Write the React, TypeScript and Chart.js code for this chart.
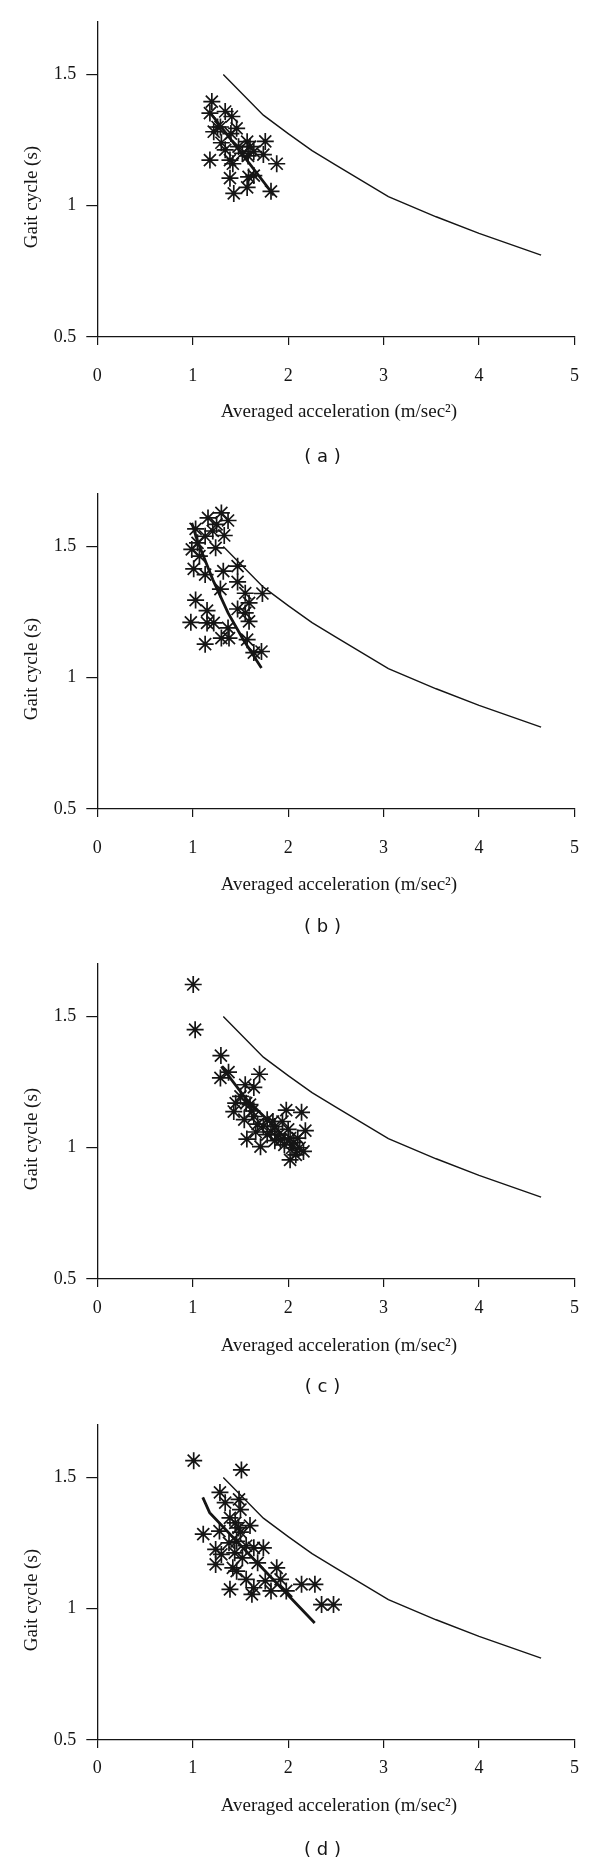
import React, { useEffect, useRef } from "react";
import { Chart, registerables } from "chart.js";

Chart.register(...registerables);

// ---------- text ----------
const X_TITLE = "Averaged acceleration (m/sec²)";
const Y_TITLE = "Gait cycle (s)";
const PANEL_LABELS = ["( a )", "( b )", "( c )", "( d )"];

// ---------- tick labels ----------
const X_TICKS = [0, 1, 2, 3, 4, 5];
const Y_TICKS = [0.5, 1, 1.5];
const X_TICK_LABELS = ["0", "1", "2", "3", "4", "5"];
const Y_TICK_LABELS = ["0.5", "1", "1.5"];
const X_MIN = 0;
const X_MAX = 5;
const Y_MIN = 0.5;
const Y_MAX = 1.7;

// ---------- reference curve (same in every panel) ----------
const REF_X = [1.32, 1.74, 2.0, 2.25, 2.5, 3.05, 3.55, 4.0, 4.65];
const REF_Y = [1.5, 1.345, 1.275, 1.21, 1.155, 1.035, 0.958, 0.895, 0.812];

// ---------- panel (a) ----------
const A_X = [1.2, 1.18, 1.34, 1.41, 1.26, 1.22, 1.46, 1.4, 1.3, 1.18, 1.34, 1.39, 1.48, 1.57, 1.6, 1.52, 1.42, 1.58, 1.76, 1.74, 1.88, 1.39, 1.43, 1.57, 1.585, 1.64, 1.82, 1.29, 1.64];
const A_Y = [1.397, 1.353, 1.359, 1.34, 1.3, 1.282, 1.295, 1.275, 1.24, 1.174, 1.213, 1.174, 1.225, 1.244, 1.225, 1.2, 1.16, 1.19, 1.245, 1.195, 1.16, 1.105, 1.047, 1.07, 1.11, 1.115, 1.055, 1.3, 1.206];
const A_FIT_X = [1.17, 1.5, 1.85];
const A_FIT_Y = [1.36, 1.205, 1.04];

// ---------- panel (b) ----------
const B_X = [1.3, 1.16, 1.37, 1.25, 1.03, 1.21, 1.33, 1.13, 1.05, 1.24, 0.99, 1.07, 1.01, 1.13, 1.32, 1.47, 1.47, 1.29, 1.55, 1.73, 1.03, 1.59, 1.15, 1.47, 1.55, 0.98, 1.15, 1.22, 1.59, 1.37, 1.3, 1.38, 1.13, 1.57, 1.64, 1.72];
const B_Y = [1.628, 1.609, 1.599, 1.584, 1.567, 1.559, 1.542, 1.539, 1.514, 1.495, 1.489, 1.463, 1.415, 1.393, 1.406, 1.425, 1.365, 1.338, 1.322, 1.321, 1.296, 1.285, 1.256, 1.262, 1.247, 1.211, 1.209, 1.209, 1.215, 1.19, 1.151, 1.151, 1.128, 1.145, 1.096, 1.1];
const B_FIT_X = [0.99, 1.05, 1.21, 1.37, 1.53, 1.72];
const B_FIT_Y = [1.59, 1.52, 1.374, 1.247, 1.145, 1.037];

// ---------- panel (c) ----------
const C_X = [1.005, 1.025, 1.295, 1.29, 1.375, 1.7, 1.55, 1.64, 1.5, 1.45, 1.6, 1.43, 1.54, 1.64, 1.78, 1.98, 2.14, 1.86, 1.94, 1.567, 1.71, 1.78, 1.86, 2.02, 2.18, 2.1, 2.02, 2.08, 2.16, 1.96, 1.9, 1.74, 1.82, 2.04, 1.66, 1.68, 1.84, 2.0, 2.06, 1.92, 2.12, 1.62, 1.56];
const C_Y = [1.622, 1.45, 1.351, 1.266, 1.288, 1.28, 1.24, 1.23, 1.196, 1.17, 1.164, 1.138, 1.107, 1.119, 1.107, 1.143, 1.135, 1.081, 1.1, 1.033, 1.004, 1.05, 1.027, 1.037, 1.065, 1.037, 0.954, 0.973, 0.986, 1.011, 1.05, 1.081, 1.062, 0.999, 1.06, 1.09, 1.1, 1.07, 1.02, 1.03, 1.0, 1.14, 1.17];
const C_FIT_X = [1.3, 1.55, 1.8, 2.1];
const C_FIT_Y = [1.31, 1.19, 1.1, 0.99];

// ---------- panel (d) ----------
const D_X = [1.01, 1.51, 1.285, 1.34, 1.485, 1.5, 1.39, 1.445, 1.6, 1.48, 1.5, 1.11, 1.28, 1.38, 1.64, 1.74, 1.24, 1.3, 1.44, 1.52, 1.24, 1.42, 1.46, 1.68, 1.88, 1.56, 1.76, 1.92, 2.14, 2.28, 1.39, 1.64, 1.62, 1.82, 1.98, 2.35, 2.475, 1.46, 1.56];
const D_Y = [1.564, 1.529, 1.443, 1.404, 1.417, 1.378, 1.346, 1.327, 1.317, 1.308, 1.292, 1.284, 1.296, 1.251, 1.232, 1.232, 1.226, 1.207, 1.213, 1.194, 1.169, 1.156, 1.143, 1.175, 1.156, 1.112, 1.106, 1.112, 1.093, 1.093, 1.074, 1.08, 1.055, 1.068, 1.068, 1.016, 1.016, 1.257, 1.24];
const D_FIT_X = [1.105, 1.177, 1.7, 2.278];
const D_FIT_Y = [1.424, 1.366, 1.166, 0.946];

const STARS_X = [A_X, B_X, C_X, D_X];
const STARS_Y = [A_Y, B_Y, C_Y, D_Y];
const FITS_X = [A_FIT_X, B_FIT_X, C_FIT_X, D_FIT_X];
const FITS_Y = [A_FIT_Y, B_FIT_Y, C_FIT_Y, D_FIT_Y];

// ---------- layout (pixels) ----------
const CANVAS_W = 600;
const CANVAS_H = 470;
const PANEL_TOPS = [0, 472, 942, 1403];
const LABEL_PADS = [20, 20, 10, 9];
const TITLE_GAPS = [75.5, 76, 67, 66];
const CAPTION_GAPS = [120, 118, 108, 110];

const SERIF = "'Liberation Serif', 'Times New Roman', serif";
const SANS = "'DejaVu Sans', Verdana, sans-serif";
const INK = "#151515";

Chart.defaults.font.family = SERIF;

const zip = (xs: number[], ys: number[]) => xs.map((x, i) => ({ x, y: ys[i] }));

function Panel({ idx }: { idx: number }) {
  const ref = useRef<HTMLCanvasElement | null>(null);

  useEffect(() => {
    if (!ref.current) return;
    const titleGap = TITLE_GAPS[idx];
    const captionGap = CAPTION_GAPS[idx];
    const textPlugin = {
      id: "panelText",
      afterDraw(chart: any) {
        const { ctx, chartArea } = chart;
        ctx.save();
        ctx.fillStyle = INK;
        ctx.textAlign = "center";
        ctx.textBaseline = "middle";
        ctx.font = `19px ${SERIF}`;
        ctx.fillText(X_TITLE, (chartArea.left + chartArea.right) / 2 + 3, chartArea.bottom + titleGap);
        ctx.save();
        ctx.translate(32, chartArea.bottom - 140);
        ctx.rotate(-Math.PI / 2);
        ctx.fillText(Y_TITLE, 0, 0);
        ctx.restore();
        ctx.font = `18px ${SANS}`;
        ctx.fillText(PANEL_LABELS[idx], 322.5, chartArea.bottom + captionGap);
        ctx.restore();
      },
    };

    const chart = new Chart(ref.current, {
      type: "scatter",
      data: {
        datasets: [
          {
            data: zip(STARS_X[idx], STARS_Y[idx]),
            showLine: false,
            pointStyle: "star",
            pointRadius: 8.5,
            pointHoverRadius: 8.5,
            borderColor: INK,
            backgroundColor: INK,
            borderWidth: 1.7,
          },
          {
            data: zip(FITS_X[idx], FITS_Y[idx]),
            showLine: true,
            pointRadius: 0,
            borderColor: INK,
            borderWidth: 2.8,
            tension: 0,
            fill: false,
          },
          {
            data: zip(REF_X, REF_Y),
            showLine: true,
            pointRadius: 0,
            borderColor: INK,
            borderWidth: 1.4,
            tension: 0,
            fill: false,
          },
        ],
      } as any,
      options: {
        responsive: false,
        animation: false,
        devicePixelRatio: 1,
        layout: { padding: { top: 22, right: 25.5, bottom: 0, left: 0 } },
        plugins: { legend: { display: false }, tooltip: { enabled: false }, title: { display: false } },
        scales: {
          x: {
            type: "linear",
            min: X_MIN,
            max: X_MAX,
            afterBuildTicks: (s: any) => {
              s.ticks = X_TICKS.map((v) => ({ value: v }));
            },
            afterFit: (s: any) => {
              s.height = CANVAS_H - 337;
            },
            grid: { drawOnChartArea: false, drawTicks: true, tickLength: 8, color: INK, lineWidth: 1.2 },
            border: { display: true, color: INK, width: 1.3 },
            ticks: {
              padding: LABEL_PADS[idx],
              color: INK,
              font: { family: SERIF, size: 18 },
              maxRotation: 0,
              autoSkip: false,
              callback: (v: number) => X_TICK_LABELS[X_TICKS.indexOf(v)] ?? String(v),
            },
          },
          y: {
            type: "linear",
            min: Y_MIN,
            max: Y_MAX,
            afterBuildTicks: (s: any) => {
              s.ticks = Y_TICKS.map((v) => ({ value: v }));
            },
            afterFit: (s: any) => {
              s.width = 97.3;
            },
            grid: { drawOnChartArea: false, drawTicks: true, tickLength: 11, color: INK, lineWidth: 1.2 },
            border: { display: true, color: INK, width: 1.3 },
            ticks: {
              padding: 10,
              color: INK,
              font: { family: SERIF, size: 18 },
              autoSkip: false,
              callback: (v: number) => Y_TICK_LABELS[Y_TICKS.indexOf(v)] ?? String(v),
            },
          },
        },
      } as any,
      plugins: [textPlugin],
    });
    return () => chart.destroy();
  }, [idx]);

  return (
    <div style={{ position: "absolute", left: 0, top: PANEL_TOPS[idx], width: CANVAS_W, height: CANVAS_H }}>
      <canvas ref={ref} width={CANVAS_W} height={CANVAS_H} style={{ display: "block", width: CANVAS_W, height: CANVAS_H }} />
    </div>
  );
}

export default function App() {
  return (
    <div
      style={{
        position: "absolute",
        left: 0,
        top: 0,
        width: 600,
        height: 1867,
        overflow: "hidden",
        background: "#fff",
      }}
    >
      {[0, 1, 2, 3].map((i) => (
        <Panel key={i} idx={i} />
      ))}
    </div>
  );
}
